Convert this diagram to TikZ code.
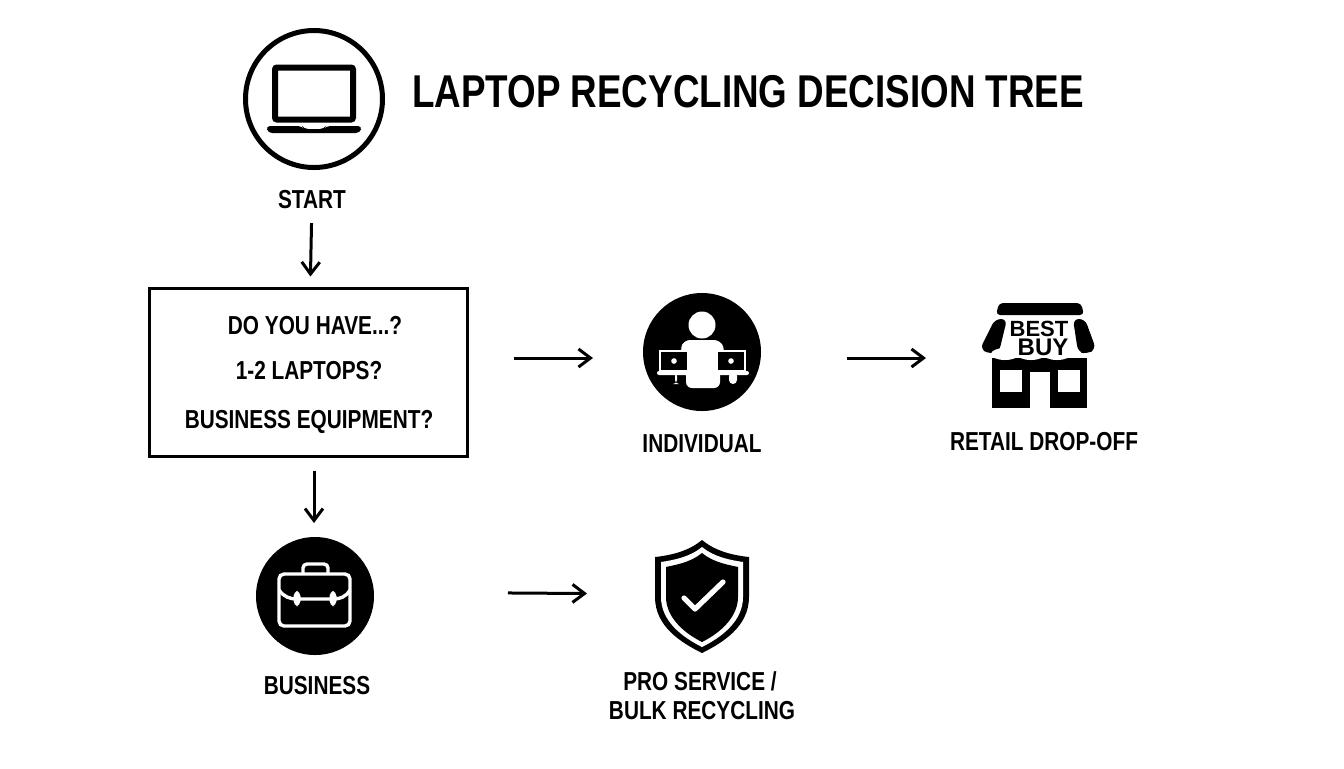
\documentclass[tikz,border=0pt]{standalone}
\usepackage{fontspec}
\setmainfont[FakeStretch=0.8]{Liberation Sans}
\newfontfamily\logofont{Liberation Sans}
\usetikzlibrary{arrows.meta}

\begin{document}
\begin{tikzpicture}[
  x=0.5pt, y=-0.5pt,
  every node/.style={inner sep=0pt, outer sep=0pt, font=\bfseries},
  flow/.style={draw=\coloris, line width=1.5pt, -{Straight Barb[length=6pt,width=9pt,line width=1.5pt]}},
  label text/.style={text=\coloris, font=\fontsize{13}{15}\bfseries\selectfont},
  round icon/.style={circle, fill=\coloris, minimum size=59pt},
]
%-------------------------------------------------------------
\newcommand{\coloris}{black}
\newcommand{\colorisW}{white}
\newcommand{\shieldpath}[4]{(702,#1) .. controls (702-12,#1+10) and (702-28,#2-2) .. (702-#3,#2)
  -- (702-#3,597) .. controls (702-#3,#4-26) and (702-20,#4-10) .. (702,#4)
  .. controls (702+20,#4-10) and (702+#3,#4-26) .. (702+#3,597)
  -- (702+#3,#2) .. controls (702+28,#2-2) and (702+12,#1+10) .. (702,#1) -- cycle}

\useasboundingbox[fill=white] (0,0) rectangle (1344,768);

\node[text=\coloris, font=\fontsize{23}{26}\bfseries\selectfont, anchor=west] (T0) at (412,92) {LAPTOP RECYCLING DECISION TREE};

%============================================================
\node[circle, draw=\coloris, line width=2.5pt, minimum size=68.5pt] (S0) at (314,99) {};
\node[label text] (S1) at (312,200) {START};
\draw[\coloris, line width=3pt, rounded corners=1pt] (275,67.5) rectangle (353,119.5);
\fill[\coloris, rounded corners=2pt] (266,126) -- (302,126) -- (304,129) -- (324,129) -- (326,126) -- (362,126) -- (360,133) -- (268,133) -- cycle;
%============================================================
\node[draw=\coloris, line width=1.75pt, minimum width=159pt, minimum height=84pt] (Q0) at (308.5,372.5) {};
\node[label text] (Q1) at (315,326) {DO YOU HAVE...?};
\node[label text] (Q2) at (309,371) {1-2 LAPTOPS?};
\node[label text] (Q3) at (309,422) {BUSINESS EQUIPMENT?};
%============================================================
\node[round icon] (I0) at (702,352) {};
\node[label text] (I1) at (702,444) {INDIVIDUAL};
\fill[\colorisW] (702,325) circle (13.5);
\fill[\colorisW, rounded corners=3pt] (680,350) -- (684,340) -- (720,340) -- (725,350) -- (720,370) -- (720,388) -- (686,388) -- (686,370) -- cycle;
\foreach \xa/\xb in {675/672, 729/732} \fill[\colorisW, rounded corners=2pt] (\xa,372) rectangle (\xb+5,384);
\foreach \xa/\xb/\xc in {660/688/674, 717/745/731} {
  \draw[\colorisW, fill=\coloris, line width=1.2pt] (\xa,351) rectangle (\xb,371);
  \fill[\colorisW] (\xc,361) circle (2.8);
}
\fill[\colorisW, rounded corners=1pt] (657,371) rectangle (692,375);
\fill[\colorisW, rounded corners=1pt] (713,371) rectangle (749,375);
%============================================================
\node[minimum width=58pt, minimum height=53pt] (R0) at (1038,356) {};
\node[label text] (R1) at (1044,442) {RETAIL DROP-OFF};
\fill[\coloris, rounded corners=2pt] (999,303) -- (1081,303) -- (1084,315) -- (996,315) -- cycle;
\fill[\coloris, rounded corners=3pt] (995,319) -- (1007,319) -- (999,352) -- (990,354) -- (980,349) -- cycle;
\fill[\coloris, rounded corners=3pt] (1073,319) -- (1085,319) -- (1096,349) -- (1087,354) -- (1078,352) -- cycle;
\fill[\coloris] (992,358) rectangle (1087,408);
\foreach \xa in {1005,1031,1057} \fill[\colorisW] (\xa,354) ellipse (14 and 6);
\fill[\colorisW] (1000,370) rectangle (1022,392);
\fill[\colorisW] (1058,370) rectangle (1080,392);
\fill[\colorisW] (1030,372) rectangle (1050,408);
\node[text=\coloris, font=\logofont\fontsize{11}{11}\bfseries\selectfont] (R2) at (1039,329) {BEST};
\node[text=\coloris, font=\logofont\fontsize{12}{12}\bfseries\selectfont] (R3) at (1043,347) {BUY};
%============================================================
\node[round icon] (B0) at (315,596) {};
\node[label text] (B1) at (317,686) {BUSINESS};
\draw[\colorisW, line width=1.7pt, rounded corners=2.5pt] (279,574) rectangle (350,626);
\draw[\colorisW, line width=1.7pt, rounded corners=2pt] (303,573) -- (303,564) -- (328,564) -- (328,573);
\draw[\colorisW, line width=1.7pt] (279,590) .. controls (284,597) and (290,599) .. (297,599) -- (333,599) .. controls (340,599) and (346,597) .. (350,590);
\foreach \xa in {297,333} \fill[\colorisW, rounded corners=2.5pt] (\xa-3.5,591) rectangle (\xa+3.5,606);
%============================================================
\node[minimum width=47pt, minimum height=57pt] (P0) at (702,597) {};
\node[label text] (P1) at (700,681) {PRO SERVICE /};
\node[label text] (P2) at (702,711) {BULK RECYCLING};
\fill[\coloris] \shieldpath{540}{557}{47}{653};
\fill[\colorisW] \shieldpath{547}{562}{41}{647};
\fill[\coloris] \shieldpath{553}{567}{36}{642};
\draw[\colorisW, line width=2.6pt, line cap=round, line join=round] (684,598) -- (695,609) -- (723,582);
%============================================================

\draw[flow, shorten <=7pt, shorten >=6pt] (S1) -- (Q0);
\draw[flow, shorten <=23pt, shorten >=25pt] ([yshift=7.25pt]Q0.east) -- ([yshift=-3pt]I0.west);
\draw[flow, shorten <=43pt, shorten >=27pt] ([yshift=-3pt]I0.east) -- ([yshift=-1pt]R0.west);
\draw[flow, shorten <=7pt, shorten >=7pt] ([xshift=2.75pt]Q0.south) -- (B0.north -| S0);
\draw[flow, shorten <=67pt, shorten >=34pt] ([yshift=2pt]B0.east) -- ([yshift=1.5pt]P0.west);

\end{tikzpicture}
\end{document}
